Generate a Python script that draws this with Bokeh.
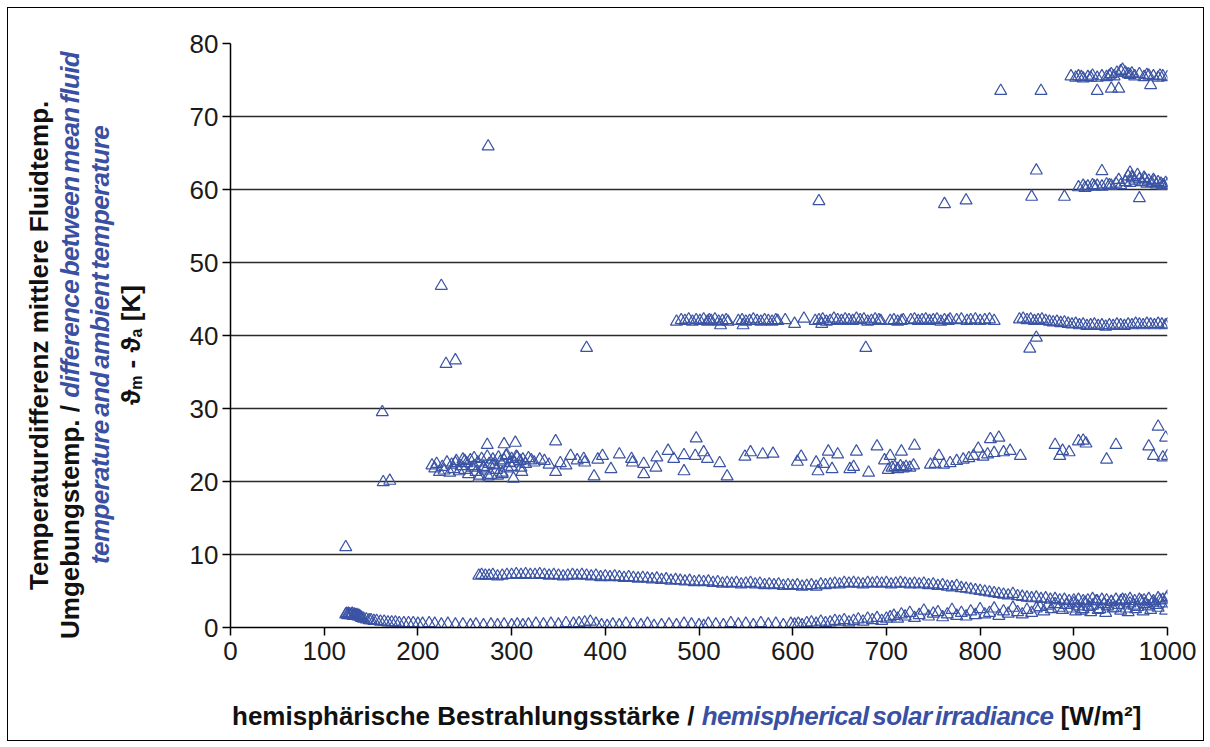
from bokeh.plotting import figure
from bokeh.models import Range1d, FixedTicker, ColumnDataSource, Div
from bokeh.layouts import row, column
from bokeh.embed import file_html
from bokeh.resources import INLINE

# ---------------- data ----------------
bottom_x = [
    123, 124, 125, 126, 127, 128, 129, 130, 131, 132,
    133, 134, 135, 136, 137, 138, 139, 140, 142, 145,
    148, 150, 153, 156, 160, 164, 168, 172, 176, 180,
    185, 190, 195, 200, 205, 212, 218, 225, 232, 240,
    248, 256, 262, 270, 278, 285, 292, 300, 306, 312,
    318, 326, 334, 342, 350, 358, 366, 372, 378, 384,
    390, 396, 402, 408, 415, 422, 430, 438, 445, 452,
    460, 468, 476, 484, 492, 500, 505, 510, 518, 526,
    534, 542, 550, 558, 566, 574, 582, 590, 598, 602,
    606, 610, 615, 620, 625, 630, 635, 640, 645, 650,
    655, 660, 665, 670, 675, 680, 685, 690, 695, 700,
    704, 708, 712, 716, 720, 725, 730, 735, 740, 745,
    750, 755, 760, 765, 770, 775, 780, 785, 790, 795,
    800, 805, 810, 815, 820, 825, 830, 835, 840, 845,
    850, 855, 860, 864, 868, 872, 876, 880, 884, 888,
    892, 896, 900, 904, 908, 912, 916, 920, 924, 928,
    932, 936, 940, 944, 948, 952, 956, 960, 964, 968,
    972, 976, 980, 984, 988, 992, 996, 999, 902, 910,
    918, 926, 934, 942, 950, 958, 966, 974, 982, 990,
    998]
bottom_y = [
    1.8, 1.9, 1.7, 1.9, 1.8, 1.7, 1.8, 1.9, 1.6, 1.8,
    1.7, 1.6, 1.7, 1.5, 1.6, 1.5, 1.4, 1.3, 1.2, 1.1,
    1.0, 1.0, 0.9, 0.9, 0.8, 0.8, 0.7, 0.7, 0.7, 0.6,
    0.6, 0.6, 0.6, 0.5, 0.5, 0.6, 0.5, 0.4, 0.5, 0.4,
    0.4, 0.3, 0.4, 0.3, 0.4, 0.3, 0.4, 0.3, 0.4, 0.3,
    0.4, 0.5, 0.4, 0.5, 0.4, 0.6, 0.5, 0.6, 0.7, 0.8,
    0.5, 0.3, 0.2, 0.4, 0.3, 0.5, 0.4, 0.3, 0.5, 0.2,
    0.3, 0.4, 0.3, 0.5, 0.4, 0.3, 0.2, 0.5, 0.4, 0.3,
    0.6, 0.4, 0.5, 0.3, 0.6, 0.4, 0.5, 0.3, 0.5, 0.4,
    0.5, 0.3, 0.6, 0.7, 0.5, 0.8, 0.6, 0.7, 0.9, 0.8,
    1.0, 0.7, 0.9, 1.1, 0.8, 1.2, 1.0, 1.3, 0.9, 1.2,
    1.4, 1.6, 1.2, 1.8, 1.5, 2.0, 1.3, 1.7, 2.3, 1.5,
    1.9, 2.1, 1.4, 1.8, 2.4, 1.6, 2.0, 1.5, 2.2, 1.7,
    2.5, 1.8, 2.0, 2.6, 1.6, 2.2, 1.9, 2.7, 2.1, 1.8,
    2.4, 2.0, 2.6, 2.8, 2.2, 3.0, 2.5, 3.2, 2.7, 2.4,
    3.1, 2.6, 3.3, 2.9, 2.3, 3.4, 2.8, 3.0, 3.6, 2.5,
    3.2, 2.9, 3.5, 2.7, 3.1, 3.8, 2.6, 3.3, 3.0, 2.8,
    3.6, 3.2, 2.9, 3.4, 3.1, 3.7, 3.3, 4.0, 2.2, 2.5,
    2.1, 2.4, 2.0, 2.6, 2.3, 2.1, 2.5, 2.2, 2.4, 2.7,
    2.3]

upper_x = [
    265, 268, 272, 276, 280, 285, 290, 295, 300, 305,
    310, 315, 320, 325, 330, 335, 340, 345, 350, 355,
    360, 365, 370, 375, 380, 385, 390, 395, 400, 405,
    410, 415, 420, 425, 430, 435, 440, 445, 450, 455,
    460, 465, 470, 475, 480, 485, 490, 495, 500, 505,
    510, 515, 520, 525, 530, 535, 540, 545, 550, 555,
    560, 565, 570, 575, 580, 585, 590, 595, 600, 605,
    610, 615, 620, 625, 630, 635, 640, 645, 650, 655,
    660, 665, 670, 675, 680, 685, 690, 695, 700, 705,
    710, 715, 720, 725, 730, 735, 740, 745, 750, 755,
    760, 765, 770, 775, 780, 785, 790, 795, 800, 805,
    810, 815, 820, 825, 830, 835, 840, 845, 850, 855,
    860, 865, 870, 875, 880, 885, 890, 895, 900, 905,
    910, 915, 920, 925, 930, 935, 940, 945, 950, 955,
    960, 965, 970, 975, 980, 985, 990, 995, 1000]
upper_y = [
    7.1, 7.2, 7.1, 7.1, 7.2, 7.0, 7.1, 7.2, 7.2, 7.3,
    7.2, 7.3, 7.2, 7.2, 7.3, 7.2, 7.1, 7.2, 7.1, 7.0,
    7.1, 7.2, 7.1, 7.2, 7.1, 7.0, 7.1, 6.9, 7.0, 6.9,
    7.0, 6.9, 6.8, 6.9, 6.8, 6.7, 6.8, 6.7, 6.6, 6.7,
    6.5, 6.6, 6.4, 6.5, 6.4, 6.3, 6.4, 6.2, 6.3, 6.2,
    6.3, 6.1, 6.2, 6.0, 6.1, 6.0, 6.1, 5.9, 6.0, 6.1,
    5.9, 6.0, 5.8, 5.9, 5.8, 5.9, 5.7, 5.8, 5.7, 5.8,
    5.6, 5.7, 5.8, 5.6, 5.9, 5.8, 5.9, 6.0, 5.9, 6.1,
    6.0, 6.1, 6.0, 5.9, 6.1, 6.0, 6.1, 6.0, 6.1, 5.9,
    6.0, 6.1, 6.0, 5.9, 6.0, 5.9, 6.0, 5.8, 5.9, 5.7,
    5.8, 5.6, 5.5, 5.7, 5.4, 5.3, 5.2, 5.1, 5.0, 4.9,
    4.8, 4.7, 4.6, 4.5, 4.4, 4.6, 4.3, 4.2, 4.1, 4.0,
    4.1, 3.9, 4.0, 3.8, 3.9, 3.7, 3.8, 3.6, 3.7, 3.8,
    3.6, 3.7, 3.9, 3.6, 3.8, 3.7, 3.5, 3.8, 3.6, 3.7,
    3.9, 3.6, 3.8, 3.7, 3.9, 3.6, 4.0, 3.8, 4.2]

dense22_x = [
    215, 218, 220, 223, 226, 228, 231, 234, 236, 238,
    241, 244, 246, 248, 250, 252, 254, 256, 258, 260,
    262, 264, 266, 268, 270, 272, 274, 276, 278, 280,
    282, 284, 286, 288, 290, 292, 294, 296, 298, 300,
    303, 306, 309, 312, 315, 318, 321,
    240, 250, 260, 265, 270, 275, 280, 285, 290, 295,
    300, 305, 310]
dense22_y = [
    22.2, 21.8, 22.4, 21.3, 22.0, 21.5, 22.6, 21.2, 22.3, 21.7,
    22.8, 21.4, 22.1, 23.0, 21.6, 22.5, 21.0, 22.9, 21.9, 23.2,
    21.3, 22.6, 20.8, 23.1, 22.0, 21.5, 23.4, 22.4, 20.9, 23.0,
    22.2, 21.6, 23.3, 22.7, 21.2, 22.9, 23.5, 21.8, 22.5, 23.1,
    22.6, 23.3, 22.8, 23.0, 22.4, 23.2, 22.9,
    22.5, 22.8, 22.1, 20.5, 21.8, 20.7, 22.3, 20.8, 21.0, 23.6,
    22.0, 23.4, 21.9]

scat22_x = [
    274, 292, 304, 302, 311, 324, 330, 335, 340, 347,
    347, 352, 358, 363, 370, 377, 378, 388, 392, 397,
    406, 415, 428, 429, 441, 441, 455, 454, 467, 473,
    484, 484, 497, 496, 505, 509, 522, 530, 549, 555,
    568, 579, 605, 609, 625, 627, 633, 638, 642, 648,
    661, 665, 668, 681, 690, 698, 704, 702, 706, 709,
    712, 715, 718, 721, 725, 716, 730, 729, 747, 752,
    756, 761, 768, 775, 782, 788, 793, 798, 803, 808,
    811, 815, 820, 825, 832, 843, 880, 885, 888, 895,
    905, 910, 913, 935, 945, 980, 985, 990, 995, 998,
    1000]
scat22_y = [
    25.0, 25.1, 25.3, 20.4, 21.3, 22.6, 23.0, 22.8, 22.3, 25.5,
    21.3, 22.5, 22.2, 23.5, 22.9, 23.1, 22.6, 20.7, 23.0, 23.5,
    21.7, 23.7, 23.1, 22.6, 22.4, 21.0, 23.3, 21.9, 24.2, 23.1,
    23.6, 21.4, 25.9, 23.5, 24.0, 23.1, 22.5, 20.7, 23.4, 24.0,
    23.7, 23.8, 22.7, 23.4, 22.6, 21.4, 22.4, 24.1, 21.7, 23.7,
    21.7, 22.0, 24.1, 21.2, 24.8, 22.9, 23.5, 21.6, 21.9, 22.0,
    21.7, 22.1, 21.8, 22.0, 21.9, 24.1, 24.9, 22.2, 22.3, 22.4,
    23.5, 22.3, 22.5, 22.8, 23.0, 23.2, 23.5, 24.5, 23.4, 23.7,
    25.8, 23.9, 26.0, 24.0, 24.2, 23.5, 25.0, 23.5, 24.2, 24.0,
    25.5, 25.6, 25.2, 23.0, 25.0, 24.8, 23.5, 27.5, 23.3, 26.0,
    23.5]

band42_x = [
    476, 481, 485, 489, 493, 497, 501, 505, 509, 511,
    513, 517, 521, 525, 529, 531, 542, 546, 550, 554,
    558, 562, 566, 570, 574, 578, 582, 584, 592, 602,
    612, 624, 628, 632, 636, 640, 644, 648, 652, 656,
    660, 664, 668, 672, 676, 680, 684, 688, 692, 694,
    704, 708, 712, 716, 718, 726, 730, 734, 738, 742,
    746, 750, 754, 758, 762, 766, 768, 775, 780, 786,
    790, 795, 800, 805, 810, 815, 842, 846, 850, 854,
    858, 862, 866, 870, 874, 878, 882, 886, 890, 894,
    898, 902, 906, 910, 914, 918, 922, 926, 930, 934,
    938, 942, 946, 950, 954, 958, 962, 966, 970, 974,
    978, 982, 986, 990, 994, 998, 1000]
band42_y = [
    41.9, 42.1, 42.0, 42.2, 41.9, 42.1, 42.0, 42.2, 41.9, 42.1,
    42.0, 42.2, 41.9, 42.0, 42.1, 41.9, 42.0, 42.1, 41.9, 42.0,
    42.2, 42.0, 41.9, 42.1, 42.0, 41.9, 42.1, 42.0, 42.1, 41.6,
    42.3, 42.0, 42.1, 42.2, 41.9, 42.0, 42.3, 42.1, 42.0, 42.2,
    42.1, 42.0, 42.3, 42.1, 42.2, 41.9, 42.0, 42.2, 42.1, 42.0,
    42.0, 42.1, 41.9, 42.0, 42.1, 42.1, 42.2, 42.0, 42.1, 42.2,
    42.0, 42.1, 42.2, 41.9, 42.1, 42.0, 42.2, 42.1, 42.2, 42.0,
    42.1, 42.2, 42.0, 42.1, 42.2, 42.0, 42.2, 42.3, 42.1, 42.2,
    42.0, 42.1, 42.2, 42.0, 41.9, 41.8, 41.9, 41.7, 41.8, 41.6,
    41.5, 41.6, 41.4, 41.5, 41.3, 41.4, 41.5, 41.3, 41.4, 41.2,
    41.4, 41.3, 41.5, 41.4, 41.3, 41.5, 41.4, 41.6, 41.5, 41.4,
    41.6, 41.5, 41.4, 41.6, 41.5, 41.4, 41.5]

band60_x = [
    905, 910, 915, 920, 925, 930, 935, 940, 945, 950,
    955, 958, 960, 963, 965, 968, 970, 973, 975, 978,
    980, 983, 985, 988, 990, 993, 995, 998, 1000, 912,
    922, 938, 948, 962, 976, 986, 996]
band60_y = [
    60.3, 60.5, 60.4, 60.6, 60.5, 60.4, 60.7, 60.5, 60.8, 60.6,
    61.0, 61.8, 60.9, 61.5, 61.2, 62.0, 61.4, 61.0, 61.6, 60.8,
    61.2, 60.9, 61.3, 60.7, 61.0, 60.8, 60.6, 60.9, 60.7, 60.2,
    60.4, 60.6, 61.3, 61.7, 61.4, 61.1, 60.5]

band75_x = [
    897, 902, 905, 910, 915, 920, 925, 930, 935, 940,
    943, 946, 950, 952, 955, 958, 960, 965, 970, 975,
    980, 985, 990, 995, 1000, 908, 918, 938, 962, 978, 992]
band75_y = [
    75.5, 75.3, 75.5, 75.2, 75.4, 75.6, 75.3, 75.5, 75.4, 75.8,
    75.5, 76.0, 76.2, 76.4, 76.0, 75.8, 75.7, 75.5, 75.8, 75.4,
    75.6, 75.5, 75.3, 75.5, 75.4, 75.4, 75.3, 75.6, 75.9, 75.7, 75.6]

outlier_x = [
    123, 162, 163, 170, 225, 230, 240, 275, 380, 523, 547, 631, 678, 853, 860,
    628, 762, 785, 855, 860, 890, 930, 960, 970,
    822, 865, 925, 940, 948, 982]
outlier_y = [
    11.0, 29.5, 19.9, 20.1, 46.8, 36.1, 36.6, 65.9, 38.3, 41.4, 41.4, 41.6, 38.3, 38.2, 39.7,
    58.4, 58.0, 58.5, 59.0, 62.6, 59.0, 62.5, 62.3, 58.8,
    73.5, 73.5, 73.5, 73.8, 73.8, 74.3]

x_ticks = [0, 100, 200, 300, 400, 500, 600, 700, 800, 900, 1000]
y_ticks = [0, 10, 20, 30, 40, 50, 60, 70, 80]

xlabel_de = "hemisphärische Bestrahlungsstärke / "
xlabel_en = "hemispherical solar irradiance"
xlabel_unit = " [W/m²]"
ylabel_line1 = "Temperaturdifferenz mittlere Fluidtemp."
ylabel_line2_de = "Umgebungstemp. / "
ylabel_line2_en = "difference between mean fluid"
ylabel_line3_en = "temperature and ambient temperature"

# ---------------- styling ----------------
BLUE = "#3a53a4"
TXT_BLUE = "#3a50a2"
BLACK = "#111111"
FONT = "Liberation Sans"

xs = bottom_x + upper_x + dense22_x + scat22_x + band42_x + band60_x + band75_x + outlier_x
ys = bottom_y + upper_y + dense22_y + scat22_y + band42_y + band60_y + band75_y + outlier_y
src = ColumnDataSource(data=dict(x=xs, y=ys))

YDIV_W = 150
FIG_W, FIG_H = 1045, 672
XDIV_H = 60

p = figure(width=FIG_W, height=FIG_H,
           x_range=Range1d(0, 1000), y_range=Range1d(0, 80),
           output_backend="svg", toolbar_location=None,
           min_border_left=72, min_border_right=36,
           min_border_top=35, min_border_bottom=53)
p.outline_line_color = None
p.background_fill_color = "white"
p.border_fill_color = "white"

p.scatter("x", "y", source=src, marker="triangle", size=12,
          line_color=BLUE, line_width=1.2, fill_color=None)

p.xgrid.visible = False
p.ygrid.ticker = FixedTicker(ticks=y_ticks)
p.ygrid.grid_line_color = "#2a2a2a"
p.ygrid.grid_line_width = 1.4

for ax, ticks in ((p.xaxis[0], x_ticks), (p.yaxis[0], y_ticks)):
    ax.ticker = FixedTicker(ticks=ticks)
    ax.axis_line_color = "black"
    ax.axis_line_width = 1.5
    ax.major_tick_line_color = "black"
    ax.major_tick_line_width = 1.5
    ax.major_tick_out = 8
    ax.major_tick_in = 0
    ax.minor_tick_line_color = None
    ax.major_label_text_font = FONT
    ax.major_label_text_font_size = "26px"
    ax.major_label_text_color = "#1a1a1a"
p.xaxis.major_label_standoff = 6
p.yaxis.major_label_standoff = 4

base = (f"font-family:'{FONT}',Arial,sans-serif;font-weight:bold;font-size:26px;"
        f"color:{BLACK};white-space:nowrap;")
blue_span = (f"color:{TXT_BLUE};font-style:italic;letter-spacing:-0.6px;"
             "word-spacing:-3px;")

ytext = (
    f'<div style="position:relative;width:{YDIV_W}px;height:674px;">'
    f'<div style="position:absolute;left:16px;top:0px;width:124px;height:674px;'
    f'writing-mode:vertical-rl;transform:rotate(180deg);text-align:center;'
    f'line-height:30.5px;{base}">'
    f'{ylabel_line1}<br>'
    f'{ylabel_line2_de}<span style="{blue_span}">{ylabel_line2_en}</span><br>'
    f'<span style="{blue_span}">{ylabel_line3_en}</span><br>'
    '&#977;<sub style="font-size:16px;line-height:0;">m</sub> - '
    '&#977;<sub style="font-size:16px;line-height:0;">a</sub> [K]'
    '</div></div>'
)
ydiv = Div(text=ytext, width=YDIV_W, height=FIG_H + XDIV_H, margin=0)

xtext = (
    f'<div style="padding-left:74px;padding-top:21px;line-height:30px;{base}">'
    f'{xlabel_de}<span style="{blue_span}">{xlabel_en}</span>{xlabel_unit}'
    '</div>'
)
xdiv = Div(text=xtext, width=FIG_W, height=XDIV_H, margin=0)

layout = row(ydiv, column(p, xdiv, spacing=0), spacing=0)
layout.styles = {"border": "1px solid #000000", "margin-left": "7px",
                 "margin-top": "7px", "background": "white"}

open("out.html", "w").write(file_html(layout, INLINE))
